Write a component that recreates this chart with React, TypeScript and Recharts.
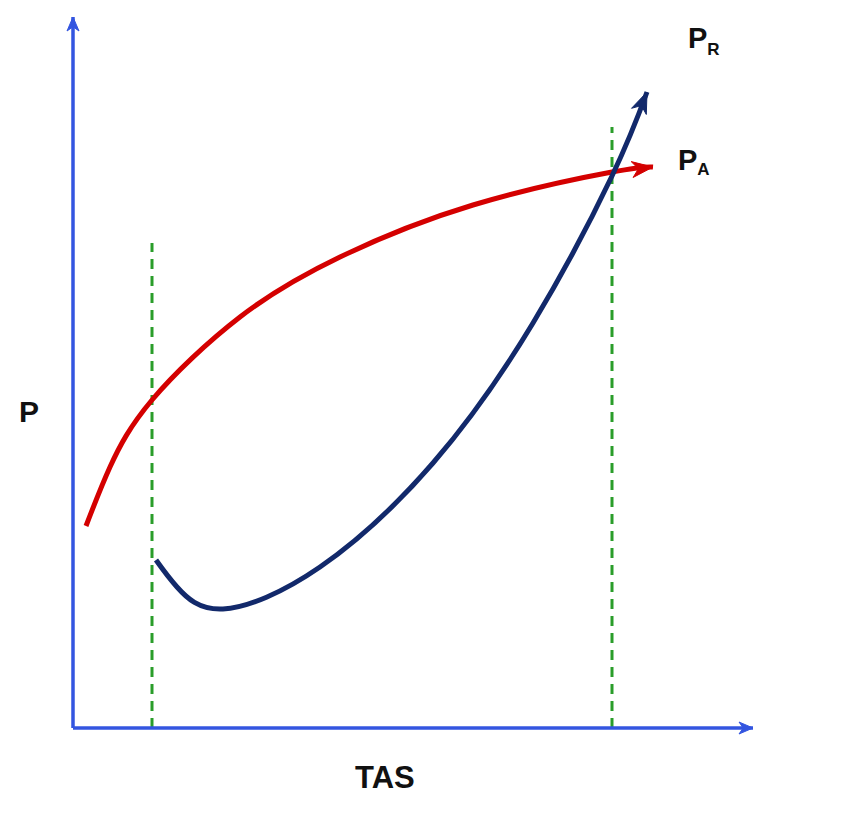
import React from 'react'
import { ComposedChart, Line, XAxis, YAxis, ReferenceLine, ReferenceDot } from 'recharts'

// power available (P_A) and power required (P_R) against TAS
const powerAvailable = [
  { x: 13, y: 202 },
  { x: 37, y: 261 },
  { x: 79, y: 328 },
  { x: 167, y: 411 },
  { x: 267, y: 471 },
  { x: 400, y: 523 },
  { x: 539, y: 556 },
  { x: 580, y: 561 },
]

const powerRequired = [
  { x: 83, y: 168 },
  { x: 104, y: 141 },
  { x: 150, y: 119 },
  { x: 247, y: 161 },
  { x: 360, y: 265 },
  { x: 460, y: 405 },
  { x: 539, y: 552 },
  { x: 574, y: 636 },
]

// min and max speed markers
const speedLimits = [
  { x: 79, top: 485 },
  { x: 539, top: 601 },
]

const X_MAX = 680
const Y_MAX = 711

const AXIS_BLUE = '#3355e0'
const RED = '#d40000'
const NAVY = '#12296b'
const GREEN = '#2a9d2a'

function arrowHead(x1: number, y1: number, x2: number, y2: number, len: number, half: number, color: string) {
  const dx = x2 - x1
  const dy = y2 - y1
  const d = Math.sqrt(dx * dx + dy * dy) || 1
  const ux = dx / d
  const uy = dy / d
  const bx = x2 - ux * len
  const by = y2 - uy * len
  const nx = x2 - ux * len * 0.7
  const ny = y2 - uy * len * 0.7
  const pts = [
    [x2, y2],
    [bx - uy * half, by + ux * half],
    [nx, ny],
    [bx + uy * half, by - ux * half],
  ]
  return <polygon points={pts.map((p) => p.join(',')).join(' ')} fill={color} stroke={color} strokeWidth={1} />
}

const axisShape = (props: any) => {
  const { x1, y1, x2, y2 } = props
  return (
    <g>
      <line x1={x1} y1={y1} x2={x2} y2={y2} stroke={AXIS_BLUE} strokeWidth={3.5} />
      {arrowHead(x1, y1, x2, y2, 14, 6, AXIS_BLUE)}
    </g>
  )
}

const headShape = (color: string) => (props: any) => {
  const { x1, y1, x2, y2 } = props
  return arrowHead(x1, y1, x2, y2, 21, 8, color)
}

const textShape = (main: string, sub: string, size: number, dy: number) => (props: any) => (
  <text
    x={props.cx}
    y={props.cy}
    fontFamily="'Liberation Sans', Arial, sans-serif"
    fontWeight="bold"
    fontSize={size}
    fill="#111"
  >
    {main}
    {sub && (
      <tspan fontSize={17} dy={dy}>
        {sub}
      </tspan>
    )}
  </text>
)

export default function App() {
  const lastA = powerAvailable.length - 1
  const lastR = powerRequired.length - 1
  return (
    <ComposedChart width={850} height={800} margin={{ top: 9, right: 105, bottom: 80, left: 65 }}>
      <XAxis type="number" dataKey="x" domain={[0, X_MAX]} hide allowDataOverflow />
      <YAxis type="number" dataKey="y" domain={[0, Y_MAX]} hide allowDataOverflow />

      {speedLimits.map((s) => (
        <ReferenceLine
          key={s.x}
          segment={[
            { x: s.x, y: 0 },
            { x: s.x, y: s.top },
          ]}
          stroke={GREEN}
          strokeWidth={3}
          strokeDasharray="10 7"
          ifOverflow="visible"
        />
      ))}

      <Line
        data={powerAvailable}
        dataKey="y"
        type="natural"
        stroke={RED}
        strokeWidth={5}
        dot={false}
        isAnimationActive={false}
      />
      <Line
        data={powerRequired}
        dataKey="y"
        type="natural"
        stroke={NAVY}
        strokeWidth={5}
        dot={false}
        isAnimationActive={false}
      />

      <ReferenceLine
        segment={[powerAvailable[lastA - 1], powerAvailable[lastA]]}
        shape={headShape(RED)}
        ifOverflow="visible"
      />
      <ReferenceLine
        segment={[powerRequired[lastR - 1], powerRequired[lastR]]}
        shape={headShape(NAVY)}
        ifOverflow="visible"
      />

      <ReferenceLine
        segment={[
          { x: 0, y: 0 },
          { x: 0, y: Y_MAX },
        ]}
        shape={axisShape}
        ifOverflow="visible"
      />
      <ReferenceLine
        segment={[
          { x: 0, y: 0 },
          { x: X_MAX, y: 0 },
        ]}
        shape={axisShape}
        ifOverflow="visible"
      />

      <ReferenceDot x={-54} y={306} ifOverflow="visible" shape={textShape('P', '', 30, 0)} />
      <ReferenceDot x={282} y={-60} ifOverflow="visible" shape={textShape('TAS', '', 31, 0)} />
      <ReferenceDot x={615} y={680} ifOverflow="visible" shape={textShape('P', 'R', 29, 7)} />
      <ReferenceDot x={605} y={558} ifOverflow="visible" shape={textShape('P', 'A', 29, 5)} />
    </ComposedChart>
  )
}
